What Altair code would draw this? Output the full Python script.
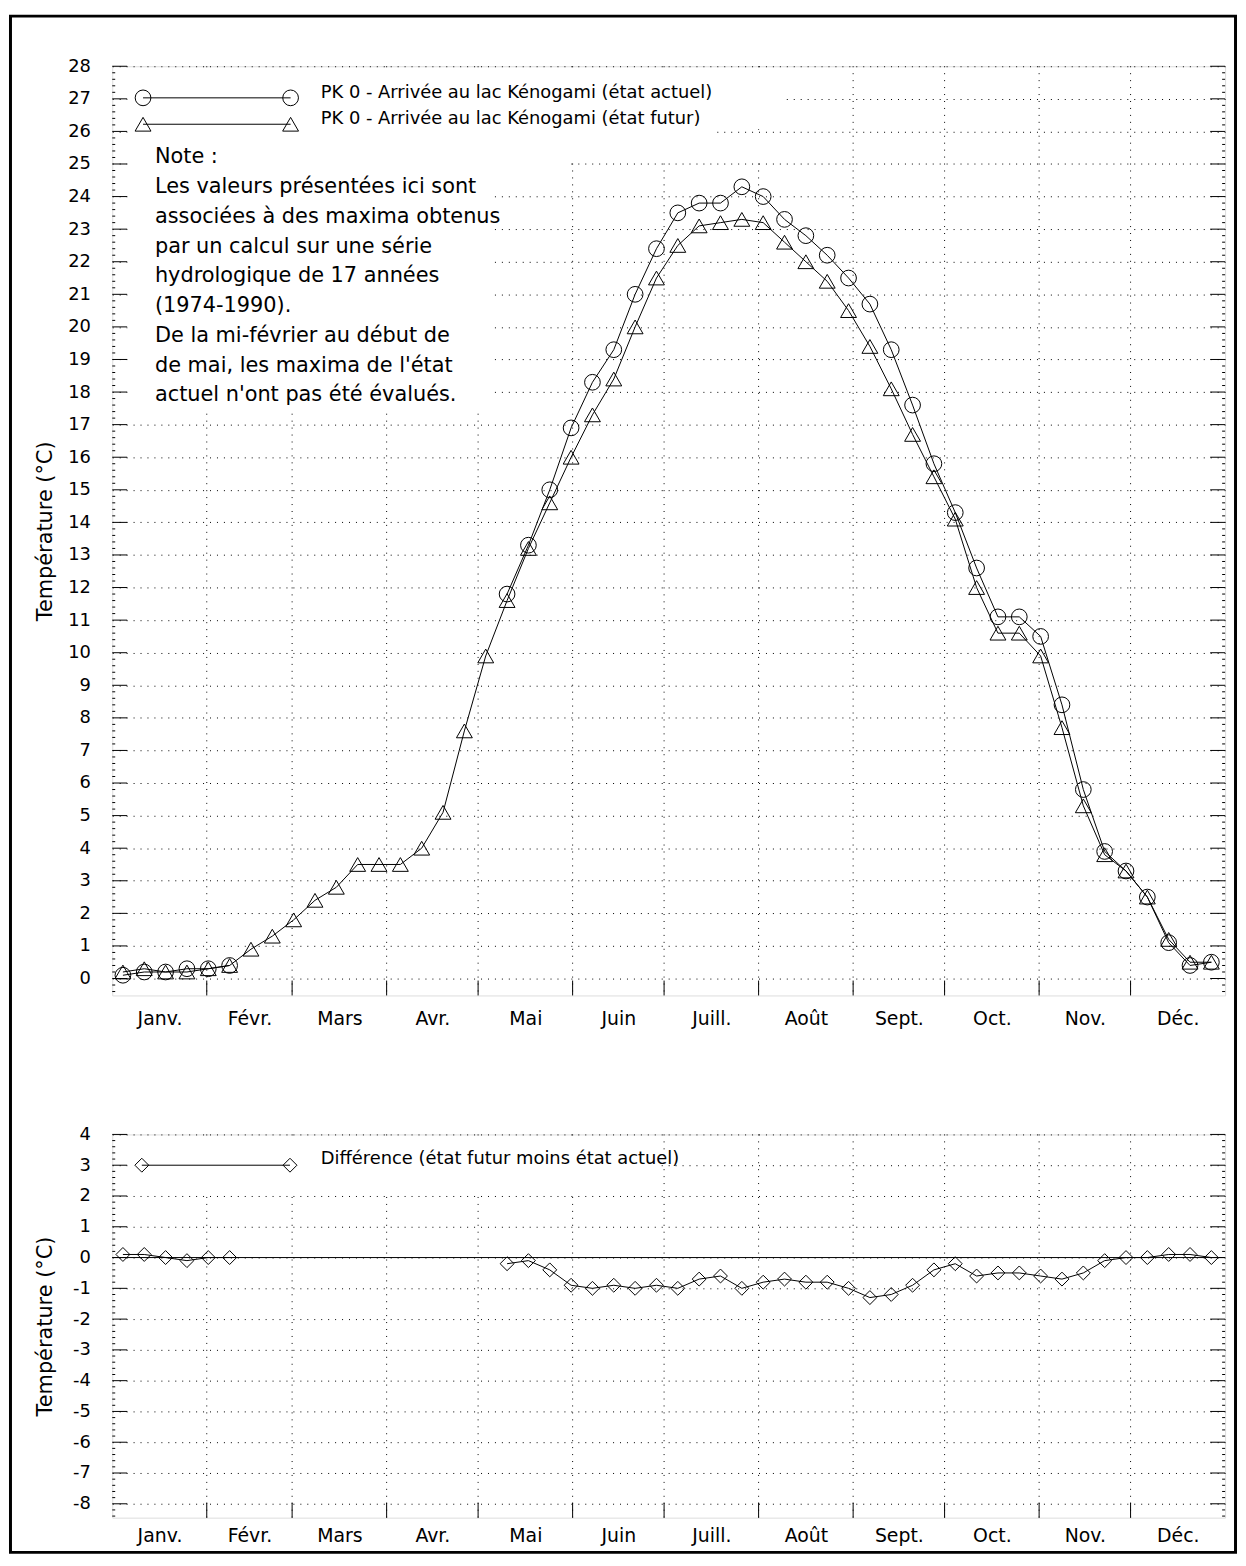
import altair as alt
import pandas as pd

FONT = "DejaVu Sans"
W = 1121
H_TOP = 936
H_BOT = 386

MONTHS = ["Janv.", "Févr.", "Mars", "Avr.", "Mai", "Juin", "Juill.", "Août", "Sept.", "Oct.", "Nov.", "Déc."]
MONTH_MID = [15.5, 45, 74.5, 105, 135.5, 166, 196.5, 227.5, 258, 288.5, 319, 349.5]
MONTH_EDGES = [31, 59, 90, 120, 151, 181, 212, 243, 273, 304, 334]

DAYS = [3.5, 10.5, 17.5, 24.5, 31.5, 38.5, 45.5, 52.5, 59.5, 66.5, 73.5, 80.5, 87.5,
        94.5, 101.5, 108.5, 115.5, 122.5, 129.5, 136.5, 143.5, 150.5, 157.5, 164.5,
        171.5, 178.5, 185.5, 192.5, 199.5, 206.5, 213.5, 220.5, 227.5, 234.5, 241.5,
        248.5, 255.5, 262.5, 269.5, 276.5, 283.5, 290.5, 297.5, 304.5, 311.5, 318.5,
        325.5, 332.5, 339.5, 346.5, 353.5, 360.5]

FUTUR = [0.2, 0.3, 0.2, 0.2, 0.3, 0.4,
         0.9, 1.3, 1.8, 2.4, 2.8, 3.5, 3.5, 3.5, 4.0, 5.1, 7.6, 9.9,
         11.6, 13.2, 14.6, 16.0, 17.3, 18.4, 20.0, 21.5, 22.5, 23.1, 23.2, 23.3,
         23.2, 22.6, 22.0, 21.4, 20.5, 19.4, 18.1, 16.7, 15.4, 14.1, 12.0, 10.6,
         10.6, 9.9, 7.7, 5.3, 3.8, 3.3, 2.5, 1.2, 0.5, 0.5]

ACTUEL = [0.1, 0.2, 0.2, 0.3, 0.3, 0.4,
          None, None, None, None, None, None, None, None, None, None, None, None,
          11.8, 13.3, 15.0, 16.9, 18.3, 19.3, 21.0, 22.4, 23.5, 23.8, 23.8, 24.3,
          24.0, 23.3, 22.8, 22.2, 21.5, 20.7, 19.3, 17.6, 15.8, 14.3, 12.6, 11.1,
          11.1, 10.5, 8.4, 5.8, 3.9, 3.3, 2.5, 1.1, 0.4, 0.5]

DIFF = [0.1, 0.1, 0.0, -0.1, 0.0, 0.0,
        None, None, None, None, None, None, None, None, None, None, None, None,
        -0.2, -0.1, -0.4, -0.9, -1.0, -0.9, -1.0, -0.9, -1.0, -0.7, -0.6, -1.0,
        -0.8, -0.7, -0.8, -0.8, -1.0, -1.3, -1.2, -0.9, -0.4, -0.2, -0.6, -0.5,
        -0.5, -0.6, -0.7, -0.5, -0.1, 0.0, 0.0, 0.1, 0.1, 0.0]

LEGEND_TOP = ["PK 0 - Arrivée au lac Kénogami (état actuel)",
              "PK 0 - Arrivée au lac Kénogami (état futur)"]
LEGEND_BOT = ["Différence (état futur moins état actuel)"]
NOTE = ["Note :",
        "Les valeurs présentées ici sont",
        "associées à des maxima obtenus",
        "par un calcul sur une série",
        "hydrologique de 17 années",
        "(1974-1990).",
        "De la mi-février au début de",
        "de mai, les maxima de l'état",
        "actuel n'ont pas été évalués."]
NOTE_Y = [25.2, 24.29, 23.38, 22.46, 21.55, 20.64, 19.73, 18.81, 17.9]

TOP_TICKS = list(range(0, 29))
BOT_TICKS = list(range(-8, 5))
TOP_MINOR = [v / 5 for v in range(-2, 140) if v % 5 != 0]
BOT_MINOR = [v / 5 for v in range(-42, 20) if v % 5 != 0]

# ---------------------------------------------------------------- scales / axes
xs = alt.Scale(domain=[0, 365], nice=False, zero=False)
yst = alt.Scale(domain=[-0.52, 28], nice=False, zero=False)
ysb = alt.Scale(domain=[-8.45, 4], nice=False, zero=False)

label_expr = "[" + ",".join("'" + m + "'" for m in MONTHS) + "][floor(datum.value / 30.5)]"


def x_axis(pad):
    return alt.Axis(values=MONTH_MID, labelExpr=label_expr, title="", ticks=False, tickSize=0,
                    domain=False, grid=False, labelFont=FONT, labelFontSize=19,
                    labelColor="black", labelPadding=pad, labelBaseline="middle",
                    labelAngle=0, labelFlush=False, labelOverlap=False)


XAX_TOP = x_axis(23)
XAX_BOT = x_axis(18)


def y_axis(vals, h):
    return alt.Axis(values=vals, title="Température (°C)", grid=True, gridColor="black",
                    gridDash=[1, 6], gridWidth=1, gridOpacity=1, ticks=False, tickSize=0,
                    domain=False, labelFont=FONT, labelFontSize=18, labelColor="black",
                    labelPadding=22, labelOverlap=False, labelExpr="datum.value + ''",
                    titleFont=FONT, titleFontSize=21, titleFontWeight="normal",
                    titleColor="black", titleX=-67, titleY=h / 2, titleAngle=270,
                    titleAlign="center", titleBaseline="middle")


yax_top = y_axis(TOP_TICKS, H_TOP)
yax_bot = y_axis(BOT_TICKS, H_BOT)


def X(f, ax):
    return alt.X(f, type="quantitative", scale=xs, axis=ax)


def Y(f, scale, axis):
    return alt.Y(f, type="quantitative", scale=scale, axis=axis)


def panel_common(xa, scale, axis, blanks):
    layers = []
    # vertical dotted grid at month boundaries
    layers.append(alt.Chart(pd.DataFrame({"m": MONTH_EDGES})).mark_rule(
        color="black", strokeDash=[1, 6], strokeWidth=1).encode(x=X("m", xa)))
    # opaque boxes behind texts
    layers.append(alt.Chart(pd.DataFrame(blanks, columns=["x1", "x2", "y1", "y2"])).mark_rect(
        fill="white").encode(x=X("x1", xa), x2="x2", y=Y("y1", scale, axis), y2="y2"))
    return layers


def tick_layers(xa, scale, axis, h, ticks, minor):
    t = pd.DataFrame({"v": ticks})
    mn = pd.DataFrame({"v": minor})
    me = pd.DataFrame({"m": MONTH_EDGES})
    return [
        alt.Chart(t).mark_rule(color="black", strokeWidth=1).encode(
            y=Y("v", scale, axis), x=alt.value(0), x2=alt.value(15)),
        alt.Chart(t).mark_rule(color="black", strokeWidth=1).encode(
            y=Y("v", scale, axis), x=alt.value(W - 15), x2=alt.value(W)),
        alt.Chart(mn).mark_rule(color="black", strokeWidth=1).encode(
            y=Y("v", scale, axis), x=alt.value(0), x2=alt.value(3)),
        alt.Chart(mn).mark_rule(color="black", strokeWidth=1).encode(
            y=Y("v", scale, axis), x=alt.value(W - 3), x2=alt.value(W)),
        alt.Chart(me).mark_rule(color="black", strokeWidth=1).encode(
            x=X("m", xa), y=alt.value(h - 15), y2=alt.value(h)),
    ]


# ---------------------------------------------------------------- top panel
top_df = pd.DataFrame({"day": DAYS, "futur": FUTUR, "actuel": ACTUEL,
                       "seg": [0 if i < 18 else 1 for i in range(len(DAYS))]})
act_df = top_df.dropna(subset=["actuel"])

blanks_top = [[5, 221, 26.6, 27.9], [5, 198, 25.05, 26.6], [5, 150, 24.6, 25.05],
              [5, 125, 17.4, 24.6], [210.5, 213.5, 25.05, 25.93], [210.5, 213.5, 26.07, 26.6]]

xa = XAX_TOP
layers = panel_common(xa, yst, yax_top, blanks_top)

layers.append(alt.Chart(top_df).mark_line(color="black", strokeWidth=1).encode(
    x=X("day", xa), y=Y("futur", yst, yax_top)))
layers.append(alt.Chart(act_df).mark_line(color="black", strokeWidth=1).encode(
    x=X("day", xa), y=Y("actuel", yst, yax_top), detail="seg:N"))
layers.append(alt.Chart(top_df).mark_point(shape="triangle-up", size=256, filled=False,
                                           color="black", strokeWidth=1, opacity=1).encode(
    x=X("day", xa), y=Y("futur", yst, yax_top)))
layers.append(alt.Chart(act_df).mark_point(shape="circle", size=250, filled=False,
                                           color="black", strokeWidth=1, opacity=1).encode(
    x=X("day", xa), y=Y("actuel", yst, yax_top)))

# legend
leg_lines = pd.DataFrame({"x1": [10.1, 10.1], "x2": [58.5, 58.5], "y": [27.03, 26.22]})
leg_circ = pd.DataFrame({"x": [10.1, 58.5], "y": [27.03, 27.03]})
leg_tri = pd.DataFrame({"x": [10.1, 58.5], "y": [26.22, 26.22]})
leg_text = pd.DataFrame({"x": [68.4, 68.4], "y": [27.17, 26.38], "t": LEGEND_TOP})
layers.append(alt.Chart(leg_lines).mark_rule(color="black", strokeWidth=1).encode(
    x=X("x1", xa), x2="x2", y=Y("y", yst, yax_top)))
layers.append(alt.Chart(leg_circ).mark_point(shape="circle", size=250, filled=False,
                                             color="black", strokeWidth=1, opacity=1).encode(
    x=X("x", xa), y=Y("y", yst, yax_top)))
layers.append(alt.Chart(leg_tri).mark_point(shape="triangle-up", size=256, filled=False,
                                            color="black", strokeWidth=1, opacity=1).encode(
    x=X("x", xa), y=Y("y", yst, yax_top)))
layers.append(alt.Chart(leg_text).mark_text(align="left", baseline="middle", font=FONT,
                                            fontSize=18, color="black").encode(
    x=X("x", xa), y=Y("y", yst, yax_top), text="t:N"))

# note
note_df = pd.DataFrame({"x": [14.0] * len(NOTE), "y": NOTE_Y, "t": NOTE})
layers.append(alt.Chart(note_df).mark_text(align="left", baseline="middle", font=FONT,
                                           fontSize=21, color="black").encode(
    x=X("x", xa), y=Y("y", yst, yax_top), text="t:N"))

layers += tick_layers(xa, yst, yax_top, H_TOP, TOP_TICKS, TOP_MINOR)

# outer frame of the whole figure
layers.append(alt.Chart(pd.DataFrame({"a": [0]})).mark_rect(
    fillOpacity=0, stroke="black", strokeWidth=3).encode(
    x=alt.value(-102.5), x2=alt.value(1131.5), y=alt.value(-50.5), y2=alt.value(1497)))

top = alt.layer(*layers).properties(width=W, height=H_TOP)

# ---------------------------------------------------------------- bottom panel
bot_df = pd.DataFrame({"day": DAYS, "diff": DIFF,
                       "seg": [0 if i < 18 else 1 for i in range(len(DAYS))]}).dropna(subset=["diff"])

xb = XAX_BOT
blanks_bot = [[5, 180, 2.1, 3.95]]
bl = panel_common(xb, ysb, yax_bot, blanks_bot)

bl.append(alt.Chart(pd.DataFrame({"z": [0]})).mark_rule(color="black", strokeWidth=1).encode(
    y=Y("z", ysb, yax_bot)))
bl.append(alt.Chart(bot_df).mark_line(color="black", strokeWidth=1).encode(
    x=X("day", xb), y=Y("diff", ysb, yax_bot), detail="seg:N"))
bl.append(alt.Chart(bot_df).mark_point(shape="diamond", size=196, filled=False,
                                       color="black", strokeWidth=1, opacity=1).encode(
    x=X("day", xb), y=Y("diff", ysb, yax_bot)))

bleg_line = pd.DataFrame({"x1": [9.7], "x2": [58.3], "y": [3.0]})
bleg_pts = pd.DataFrame({"x": [9.7, 58.3], "y": [3.0, 3.0]})
bleg_text = pd.DataFrame({"x": [68.4], "y": [3.2], "t": LEGEND_BOT})
bl.append(alt.Chart(bleg_line).mark_rule(color="black", strokeWidth=1).encode(
    x=X("x1", xb), x2="x2", y=Y("y", ysb, yax_bot)))
bl.append(alt.Chart(bleg_pts).mark_point(shape="diamond", size=196, filled=False,
                                         color="black", strokeWidth=1, opacity=1).encode(
    x=X("x", xb), y=Y("y", ysb, yax_bot)))
bl.append(alt.Chart(bleg_text).mark_text(align="left", baseline="middle", font=FONT,
                                         fontSize=18, color="black").encode(
    x=X("x", xb), y=Y("y", ysb, yax_bot), text="t:N"))

bl += tick_layers(xb, ysb, yax_bot, H_BOT, BOT_TICKS, BOT_MINOR)

bottom = alt.layer(*bl).properties(width=W, height=H_BOT)

chart = alt.vconcat(top, bottom, spacing=140, bounds="flush", padding=0).configure_view(
    stroke="black", strokeWidth=1).configure(background="white")

chart.save("out.html", embed_options={"renderer": "svg", "actions": False})
